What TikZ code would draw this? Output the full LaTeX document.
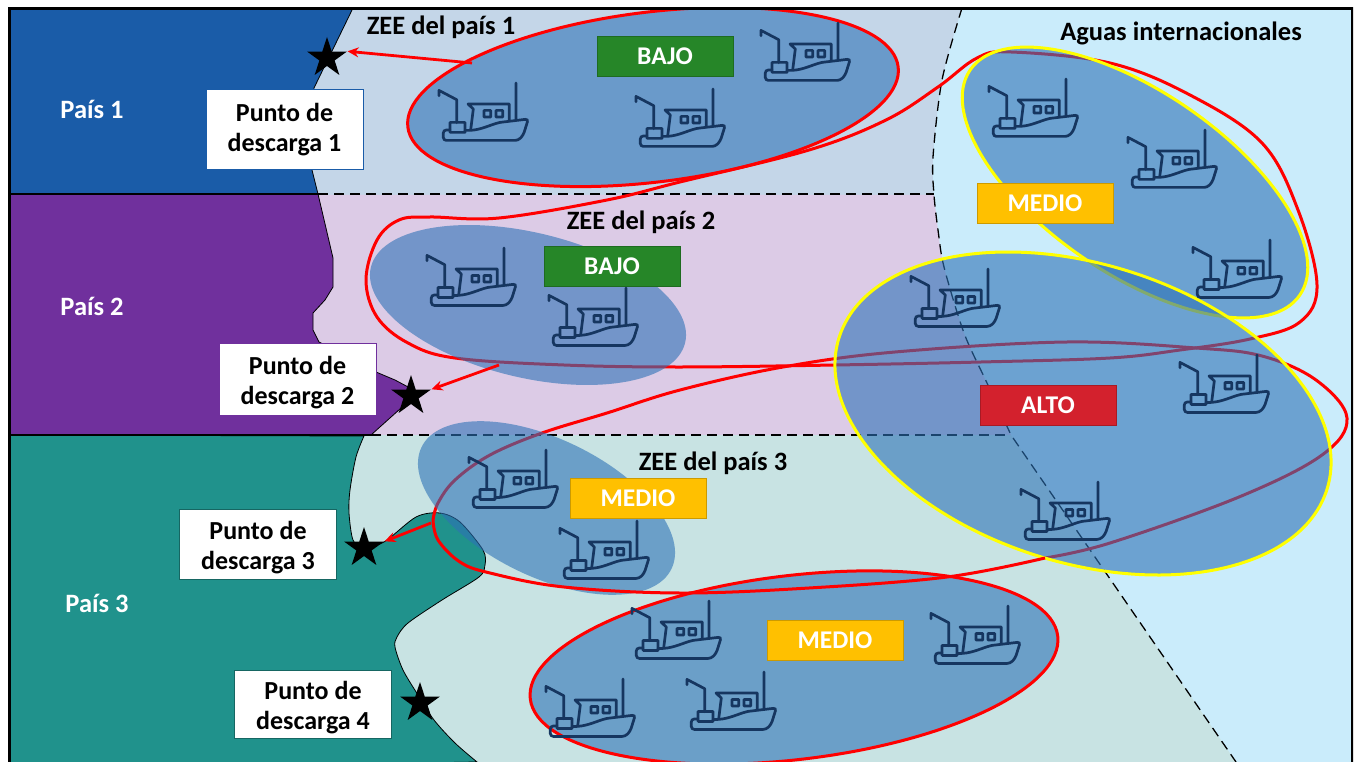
\documentclass[tikz,border=0pt]{standalone}
\usepackage{fontspec}
\setmainfont{Carlito}
\usepackage{tikz}
\usetikzlibrary{arrows.meta, shapes.geometric}

\definecolor{mar}{RGB}{202,236,251}
\definecolor{zona1}{RGB}{196,214,232}
\definecolor{zona2}{RGB}{220,203,230}
\definecolor{zona3}{RGB}{200,227,227}
\definecolor{pais1}{RGB}{26,92,168}
\definecolor{pais2}{RGB}{112,48,157}
\definecolor{pais3}{RGB}{32,146,140}
\definecolor{mancha}{RGB}{46,114,182}
\definecolor{casco}{RGB}{22,54,96}
\definecolor{bajo}{RGB}{38,134,40}
\definecolor{medio}{RGB}{255,192,0}
\definecolor{alto}{RGB}{211,33,45}
\definecolor{rojo}{RGB}{255,0,0}
\definecolor{amarillo}{RGB}{255,255,0}

\tikzset{
	barco/.pic={
		\draw[casco, line width=2.7pt, line cap=round, line join=round, fill=none]
			(-77,12.7) -- (-77,7.4) -- (-59.3,16.7) -- (-59.3,39.7)
			(0,0) -- (0,36.7)
			(-45.3,46.7) -- (-42.7,26) -- (-48,21) -- (-6.7,21) -- (-6.7,37.7)
			(-66,39.4) rectangle (-51,49.4)
			(-32,27.4) rectangle (-25.3,34)
			(-20,27.4) rectangle (-13.3,34);
		\draw[casco, line width=2.7pt, line cap=round, rounded corners=3pt]
			(-66,47) -- (-72.7,47) -- (-72.7,57.4) -- (2.3,57.4) -- (7.3,52) -- (12.3,36) -- (-16,39.4);
		\draw[casco, line width=2.7pt, line cap=round]
			(-16,39.4) .. controls (-26,41.7) and (-34,46.7) .. (-46,47.4) -- (-51,47.4);
	},
	etiqueta/.style={minimum width=136pt, minimum height=40pt, inner sep=0pt, text=white, font=\fontsize{25.5}{28}\selectfont\bfseries},
	punto/.style={fill=white, minimum width=157pt, inner sep=0pt, align=center, font=\fontsize{26}{30}\selectfont\bfseries},
	estrella/.style={star, star points=5, star point ratio=2.618, fill=black, inner sep=0pt, minimum size=42pt},
	nombre/.style={font=\fontsize{26.5}{28}\selectfont\bfseries},
	flecha/.style={-{Stealth[length=11pt,width=10pt]}, rojo, line width=2.8pt},
	mancha azul/.style={fill=mancha, fill opacity=0.6},
	contorno/.style={rojo, line width=3pt},
	limite/.style={dashed, dash pattern=on 10pt off 6pt, line width=1.6pt}
}

\begin{document}
\begin{tikzpicture}[x=1pt, y=-1pt]
	\useasboundingbox (0,0) rectangle (1354,762);
	\clip (8,8) rectangle (1353,762);

	% Fondo y zonas
	\fill[mar] (8,8) rectangle (1353,762);
	\fill[zona1] (300,8) -- plot[smooth] coordinates {(962,8) (942,80) (933,157) (934,195)} -- (300,195) -- cycle;
	\fill[zona2] (300,195) -- (934,195) -- plot[smooth] coordinates {(934,195) (938,230) (944,267) (964,333) (987,383) (1011,435)} -- (300,435) -- cycle;
	\fill[zona3] (300,435) -- (1011,435) -- (1236,762) -- (300,762) -- cycle;

	% Paises
	\fill[pais1] (8,8) -- (353,8) -- (314,88) -- (312,170) -- (318,194) -- (8,194) -- cycle;
	\draw[line width=.8pt] (353,8) -- (314,88) -- (312,170) -- (318,194);
	\filldraw[fill=pais2, line width=.8pt] (8,194) -- (318,194) -- (333,258) -- (333,287) -- (325,300) -- (313,313) -- (313,330) -- (319,342) -- (376,372) -- (395,380) -- (410,388) -- (410,400) -- (371,435) -- (8,435) -- cycle;
	\filldraw[fill=pais3, line width=.8pt] (8,435) -- (364,436) -- plot[smooth, tension=.5] coordinates {(364,436) (356,457) (350,490) (349,513) (353,540) (363,547) (384,542) (416,517) (440,513) (460,522) (483,550) (485,565) (479,577) (442,600) (408,623) (397,637) (395,647) (403,670) (418,695) (434,720) (455,743) (477,762)} -- (8,770) -- cycle;

	% Limites
	\draw[limite] (318,194) -- (934,194);
	\draw[limite] (371,435) -- (1011,435);
	\draw[limite, line width=1.3pt] plot[smooth] coordinates {(962,8) (942,80) (933,157) (934,195) (938,230) (944,267) (964,333) (987,383) (1011,435)} -- (1236,762);

	% Contornos bajo las manchas
	\draw[contorno] plot[smooth cycle, tension=.6] coordinates {(366,280) (377,240) (399,220) (430,217) (499,218) (607,200) (680,182) (809,150) (886,120) (938,87) (977,58) (1011,52) (1110,63) (1190,95) (1262,143) (1298,210) (1317,285) (1300,322) (1250,339) (1180,350) (1110,358) (981,362) (835,365) (680,367) (564,365) (455,358) (408,343) (377,317)};
	\draw[contorno] plot[smooth, tension=.6] coordinates {(1045,558) (1110,543) (1239,497) (1322,455) (1347,418) (1316,380) (1262,356) (1196,348) (1067,342) (895,352) (783,367) (680,390) (607,413) (542,433) (490,455) (455,480) (438,503) (433,520)};

	% Manchas
	\path[mancha azul, shift={(528,305)}, rotate=-13.5] (0,0) ellipse [x radius=161.6pt, y radius=72.5pt];
	\path[mancha azul, shift={(546.5,508)}, rotate=-26] (0,0) ellipse [x radius=139pt, y radius=68.8pt];
	\filldraw[mancha azul, draw=amarillo, line width=3pt, shift={(1135,182.5)}, rotate=-34.3] (0,0) ellipse [x radius=199.6pt, y radius=91.3pt];
	\filldraw[mancha azul, draw=amarillo, line width=3pt, shift={(1083,413.5)}, rotate=-17.2] (0,0) ellipse [x radius=255.5pt, y radius=149.4pt];
	\filldraw[mancha azul, draw=rojo, line width=3pt, shift={(653,97)}, rotate=7] (0,0) ellipse [x radius=247pt, y radius=85pt];
	\filldraw[mancha azul, draw=rojo, line width=3pt, shift={(794,667.5)}, rotate=6.8] (0,0) ellipse [x radius=265.6pt, y radius=92pt];

	% Contorno sobre las manchas
	\draw[contorno] plot[smooth, tension=.6] coordinates {(433,520) (438,540) (460,562) (490,573) (564,587) (680,593) (809,588) (947,577) (1045,558)};

	% Barcos
	\foreach \x/\y in {516/83, 713/89, 838/23, 504/248, 626/288, 1066/79, 1205/130, 1270/240, 988/269, 1257/355, 1098/482, 546/450, 637/521, 709/601, 1008/606, 764/672, 623/679} {
		\pic at (\x,\y) {barco};
	}

	% Puntos de descarga
	\node[estrella] (estrella1) at (327,58) {};
	\node[estrella] (estrella2) at (411,396) {};
	\node[estrella] (estrella3) at (364,548) {};
	\node[estrella] (estrella4) at (420,703) {};
	\coordinate (salida1) at (472,63);
	\coordinate (salida2) at (499,365);
	\coordinate (salida3) at (431,523);
	\draw[flecha] (salida1) -- (estrella1.outer point 5);
	\draw[flecha] (salida2) -- (estrella2.outer point 5);
	\draw[flecha] (salida3) -- (estrella3.outer point 5);
	\node[punto, draw=pais1, minimum height=80pt] (punto1) at (284.5,129.5) {Punto de\\descarga 1};
	\node[punto, draw=pais2, minimum height=72pt] (punto2) at (297.5,379) {\rule{0pt}{25pt}Punto de\\descarga 2};
	\node[punto, draw=pais3!70!black, minimum height=70pt] (punto3) at (258,544) {\rule{0pt}{25pt}Punto de\\descarga 3};
	\node[punto, draw=pais3!70!black, minimum height=68pt] (punto4) at (313,704) {\rule{0pt}{25pt}Punto de\\descarga 4};

	% Etiquetas
	\node[etiqueta, fill=bajo, draw=bajo!80!black] (bajo1) at (665,56) {BAJO};
	\node[etiqueta, fill=bajo, draw=bajo!80!black] (bajo2) at (612,266.5) {BAJO};
	\node[etiqueta, fill=medio, draw=medio!80!black] (medio1) at (1045,203) {MEDIO};
	\node[etiqueta, fill=alto, draw=alto!80!black] (alto1) at (1048,405.5) {ALTO};
	\node[etiqueta, fill=medio, draw=medio!80!black] (medio2) at (638,498) {MEDIO};
	\node[etiqueta, fill=medio, draw=medio!80!black] (medio3) at (835,640.5) {MEDIO};

	% Nombres
	\node[nombre, text=white] (nombre1) at (92,109) {País 1};
	\node[nombre, text=white] (nombre2) at (92,306) {País 2};
	\node[nombre, text=white] (nombre3) at (97,603) {País 3};
	\node[nombre] (zee1) at (441,27) {ZEE del país 1};
	\node[nombre] (zee2) at (641,222) {ZEE del país 2};
	\node[nombre] (zee3) at (713,463) {ZEE del país 3};
	\node[nombre] (aguas) at (1181,33) {Aguas internacionales};

	% Marco
	\draw[line width=2.6pt] (8,194) -- (318,194);
	\draw[line width=2.6pt] (8,435) -- (371,435);
	\draw[line width=5pt] (1353,770) -- (1353,8) -- (8,8) -- (8,770);
\end{tikzpicture}
\end{document}
